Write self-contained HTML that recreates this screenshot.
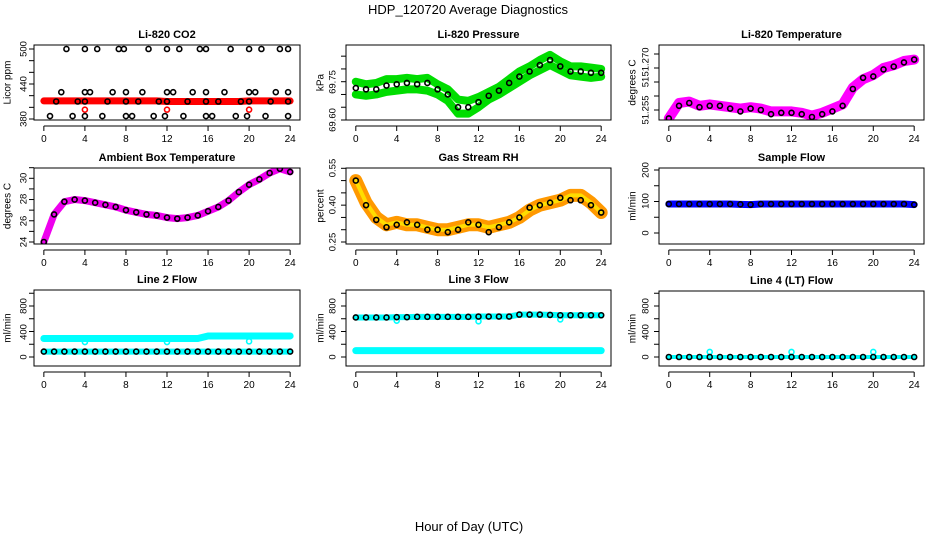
<!DOCTYPE html>
<html><head><meta charset="utf-8"><style>
body{margin:0;background:#fff;}
svg{display:block;font-family:"Liberation Sans",sans-serif;}
</style></head><body>
<svg id="c" width="936" height="540" viewBox="0 0 936 540">
<text x="468" y="14" text-anchor="middle" font-size="13">HDP_120720  Average Diagnostics</text>
<text x="469" y="531" text-anchor="middle" font-size="13">Hour of Day (UTC)</text>
</svg>
<script>
const HOURS=[0,1,2,3,4,5,6,7,8,9,10,11,12,13,14,15,16,17,18,19,20,21,22,23,24];
const X_TICKS=[0,4,8,12,16,20,24];
// CO2
const co2Band=[411,411,411,411,411,411,411,411,411,411,411,411,410,410,410,410,410,410,410,410,411,411,411,411,411];
const co2HiHours=[2.2,4,5.2,7.3,7.8,10.2,12,13.2,15.2,15.8,18.2,20,21.2,23,23.8];
const co2MidHours=[1.7,4,4.5,6.7,8,9.6,12,12.6,14.5,15.8,17.6,20,20.6,22.6,23.8];
const co2LowHours=[1.2,3.3,4,6.2,8,9.2,11.2,12,14,15.8,17,19.2,20,22.1,23.8];
const co2MinHours=[0.6,2.8,4,5.7,8,8.6,10.7,11.8,13.6,15.8,16.4,18.7,19.8,21.6,23.8];
const co2Levels=[500,426,410,385];
const co2RedHours=[4,12,20];
const co2RedVals=[396,396,396];
// Pressure
const presUpper=[69.75,69.74,69.745,69.76,69.76,69.765,69.76,69.765,69.74,69.72,69.68,69.675,69.69,69.71,69.73,69.76,69.79,69.81,69.835,69.855,69.83,69.81,69.81,69.805,69.80];
const presLower=[69.70,69.695,69.70,69.71,69.715,69.72,69.72,69.715,69.70,69.675,69.625,69.625,69.65,69.68,69.70,69.725,69.75,69.775,69.795,69.815,69.795,69.775,69.77,69.765,69.77];
const presMean=[69.725,69.72,69.72,69.735,69.74,69.745,69.74,69.745,69.72,69.70,69.65,69.65,69.67,69.695,69.715,69.745,69.77,69.79,69.815,69.835,69.81,69.79,69.79,69.785,69.785];
// Li-820 temp
const tempBand=[51.252,51.2575,51.258,51.2565,51.257,51.2565,51.256,51.2555,51.256,51.2555,51.2545,51.2545,51.2545,51.254,51.253,51.254,51.2555,51.257,51.263,51.266,51.2675,51.270,51.271,51.2725,51.273];
const tempMean=[51.252,51.2565,51.2575,51.256,51.2565,51.2565,51.2555,51.2545,51.2555,51.255,51.2535,51.254,51.254,51.2535,51.2525,51.2535,51.2545,51.2565,51.2625,51.2665,51.267,51.2695,51.2705,51.272,51.273];
// Ambient
const ambVals=[24.0,26.6,27.8,28.0,27.9,27.7,27.5,27.3,27.0,26.8,26.6,26.5,26.3,26.2,26.3,26.5,26.9,27.3,27.9,28.7,29.4,29.9,30.5,30.9,30.6];
// RH
const rhBand=[0.50,0.41,0.35,0.32,0.33,0.32,0.32,0.31,0.30,0.30,0.31,0.32,0.32,0.31,0.32,0.33,0.35,0.38,0.40,0.41,0.42,0.44,0.44,0.41,0.37];
const rhMean=[0.50,0.40,0.34,0.31,0.32,0.33,0.32,0.30,0.30,0.29,0.30,0.33,0.32,0.29,0.31,0.33,0.35,0.39,0.40,0.41,0.43,0.42,0.42,0.40,0.37];
// Flows
const sampleFlow=[92,92,92,92,92,92,92,91,90,92,92,92,92,92,92,92,92,92,92,92,92,92,92,92,90];
const l2Hi=[290,290,290,290,290,290,290,290,290,290,290,290,290,290,290,290,330,330,330,330,330,330,330,330,330];
const l2Lo=[85,85,85,85,85,85,85,85,85,85,85,85,85,85,85,85,85,85,85,85,85,85,85,85,85];
const dipHours=[4,12,20];
const l2Dips=[235,235,245];
const l3Hi=[620,620,620,620,625,625,630,630,630,630,630,630,635,635,635,635,665,665,665,660,655,655,655,655,655];
const l3Lo=[100,100,100,100,100,100,100,100,100,100,100,100,100,100,100,100,100,100,100,100,100,100,100,100,100];
const l3Dips=[570,560,590];
const l4Vals=[0,0,0,0,0,0,0,0,0,0,0,0,0,0,0,0,0,0,0,0,0,0,0,0,0];
const l4Spikes=[80,80,80];

const NS="http://www.w3.org/2000/svg";
const svg=document.getElementById('c');
function mk(tag,at,parent){const e=document.createElementNS(NS,tag);for(const k in at)e.setAttribute(k,at[k]);(parent||svg).appendChild(e);return e;}

function panel(o){
  const g=mk('g',{});
  
  
  const [l,t,r,b]=o.box;
  const xs=h=>l+(h+0.96)/25.92*(r-l);
  const ys=v=>o.y0px+(v-o.y0)*(o.y1px-o.y0px)/(o.y1-o.y0);
  const clip='cl'+o.name;
  const cp=mk('clipPath',{id:clip},g);mk('rect',{x:l,y:t,width:r-l,height:b-t},cp);
  const plot=mk('g',{'clip-path':'url(#'+clip+')'},g);
  const ttl=mk('text',{x:(l+r)/2,y:t-7,'text-anchor':'middle','font-size':11,'font-weight':'bold'},g);
  ttl.textContent=o.title;
  
  
  const bx=mk('rect',{x:l,y:t,width:r-l,height:b-t,fill:'none',stroke:'#000','stroke-width':1},g);
  
  
  mk('line',{x1:xs(0),x2:xs(24),y1:b+6,y2:b+6,stroke:'#000'},g);
  X_TICKS.forEach(h=>{
    mk('line',{x1:xs(h),x2:xs(h),y1:b+6,y2:b+11,stroke:'#000'},g);
    const tx=mk('text',{x:xs(h),y:b+22,'text-anchor':'middle','font-size':10},g);
    tx.textContent=h;
    
    
  });
  o.ticks.forEach(v=>mk('line',{x1:l-5,x2:l,y1:ys(v),y2:ys(v),stroke:'#000'},g));
  o.labels.forEach(([txt,py])=>{
    const tx=mk('text',{x:0,y:0,'text-anchor':'middle','dominant-baseline':'central','font-size':9.5,transform:`translate(${o.labX},${py}) rotate(-90)`},g);
    tx.textContent=txt;
    
    
  });
  const yt=mk('text',{x:0,y:0,'text-anchor':'middle','dominant-baseline':'central','font-size':10,transform:`translate(${o.titX},${(t+b)/2}) rotate(-90)`},g);
  yt.textContent=o.ytitle;
  
  
  return {xs,ys,plot};
}
function band(p,hs,vals,color,w){
  const pts=hs.map((h,i)=>p.xs(h)+','+p.ys(vals[i])).join(' ');
  const e=mk('polyline',{points:pts,fill:'none',stroke:color,'stroke-width':w,'stroke-linejoin':'round','stroke-linecap':'round'},p.plot);
  
  
}
function dots(p,hs,vals,color,r){
  hs.forEach((h,i)=>{
    const c=mk('circle',{cx:p.xs(h),cy:p.ys(vals[i]),r:r||2.5,fill:'none',stroke:color,'stroke-width':1.6},p.plot);
    
    
  });
}
const R1=[45,120],R2=[168,244],R3=[290,366];
const C1=[34,300],C2=[346,611],C3=[659,924];
const flowTicks=[0,200,400,600,800,1000];
const flowLab=p=>[['0',357],['400',332],['800',306]];

// 1 CO2
let p=panel({name:'co2-panel',title:'Li-820 CO2',box:[C1[0],R1[0],C1[1],R1[1]],y0:380,y0px:119,y1:500,y1px:49,ticks:[380,400,420,440,460,480,500],labels:[['380',119],['440',84],['500',49]],labX:24,titX:8,ytitle:'Licor ppm'});
band(p,HOURS,co2Band,'#f00',7);
dots(p,co2RedHours,co2RedVals,'#f00');
[co2HiHours,co2MidHours,co2LowHours,co2MinHours].forEach((hs,k)=>dots(p,hs,hs.map(()=>co2Levels[k]),'#000'));
// 2 Pressure
p=panel({name:'pressure-panel',title:'Li-820 Pressure',box:[C2[0],R1[0],C2[1],R1[1]],y0:69.60,y0px:120,y1:69.75,y1px:81.7,ticks:[69.60,69.65,69.70,69.75,69.80,69.85],labels:[['69.60',120],['69.75',82]],labX:333,titX:321,ytitle:'kPa'});
band(p,HOURS,presUpper,'#0d0',8);
band(p,HOURS,presLower,'#0d0',8);
dots(p,HOURS,presMean,'#000');
// 3 Temp
p=panel({name:'li820-temp-panel',title:'Li-820 Temperature',box:[C3[0],R1[0],C3[1],R1[1]],y0:51.255,y0px:110,y1:51.270,y1px:68,ticks:[51.255,51.26,51.265,51.27,51.275],labels:[['51.255',110],['51',82],['51.270',62]],labX:646,titX:633,ytitle:'degrees C'});
band(p,HOURS,tempBand,'#f0f',10);
dots(p,HOURS,tempMean,'#000');
// 4 Ambient
p=panel({name:'ambient-panel',title:'Ambient Box Temperature',box:[C1[0],R2[0],C1[1],R2[1]],y0:24,y0px:242,y1:30,y1px:178.3,ticks:[24,25,26,27,28,29,30,31],labels:[['24',242],['26',221],['28',199],['30',178]],labX:24,titX:8,ytitle:'degrees C'});
band(p,HOURS,ambVals,'#e0e',7);
dots(p,HOURS,ambVals,'#000');
// 5 RH
p=panel({name:'rh-panel',title:'Gas Stream RH',box:[C2[0],R2[0],C2[1],R2[1]],y0:0.25,y0px:242,y1:0.55,y1px:168.3,ticks:[0.25,0.30,0.35,0.40,0.45,0.50,0.55],labels:[['0.25',242],['0.40',205],['0.55',168]],labX:333,titX:321,ytitle:'percent'});
band(p,HOURS,rhBand,'#f90',13);
band(p,HOURS,rhBand,'#fd0',4);
dots(p,HOURS,rhMean,'#000');
// 6 Sample
p=panel({name:'sample-flow-panel',title:'Sample Flow',box:[C3[0],R2[0],C3[1],R2[1]],y0:0,y0px:233,y1:200,y1px:170,ticks:[0,50,100,150,200],labels:[['0',233],['100',201],['200',170]],labX:646,titX:633,ytitle:'ml/min'});
band(p,HOURS,sampleFlow,'#00f',7);
dots(p,HOURS,sampleFlow,'#000');
// 7 Line2
p=panel({name:'line2-flow-panel',title:'Line 2 Flow',box:[C1[0],R3[0],C1[1],R3[1]],y0:0,y0px:357,y1:800,y1px:306,ticks:flowTicks,labels:flowLab(),labX:24,titX:8,ytitle:'ml/min'});
band(p,HOURS,l2Hi,'#0ff',7);
band(p,HOURS,l2Lo,'#0ff',6);
dots(p,dipHours,l2Dips,'#0ff');
dots(p,HOURS,l2Lo,'#000');
// 8 Line3
p=panel({name:'line3-flow-panel',title:'Line 3 Flow',box:[C2[0],R3[0],C2[1],R3[1]],y0:0,y0px:357,y1:800,y1px:306,ticks:flowTicks,labels:flowLab(),labX:333,titX:321,ytitle:'ml/min'});
band(p,HOURS,l3Hi,'#0ff',6);
band(p,HOURS,l3Lo,'#0ff',7);
dots(p,dipHours,l3Dips,'#0ff');
dots(p,HOURS,l3Hi,'#000');
// 9 Line4
p=panel({name:'line4-flow-panel',title:'Line 4 (LT) Flow',box:[C3[0],R3[0]+1,C3[1],R3[1]],y0:0,y0px:357,y1:800,y1px:306,ticks:flowTicks,labels:flowLab(),labX:646,titX:633,ytitle:'ml/min'});
band(p,HOURS,l4Vals,'#0ff',4);
dots(p,dipHours,l4Spikes,'#0ff');
dots(p,HOURS,l4Vals,'#000');
</script>
</body></html>
